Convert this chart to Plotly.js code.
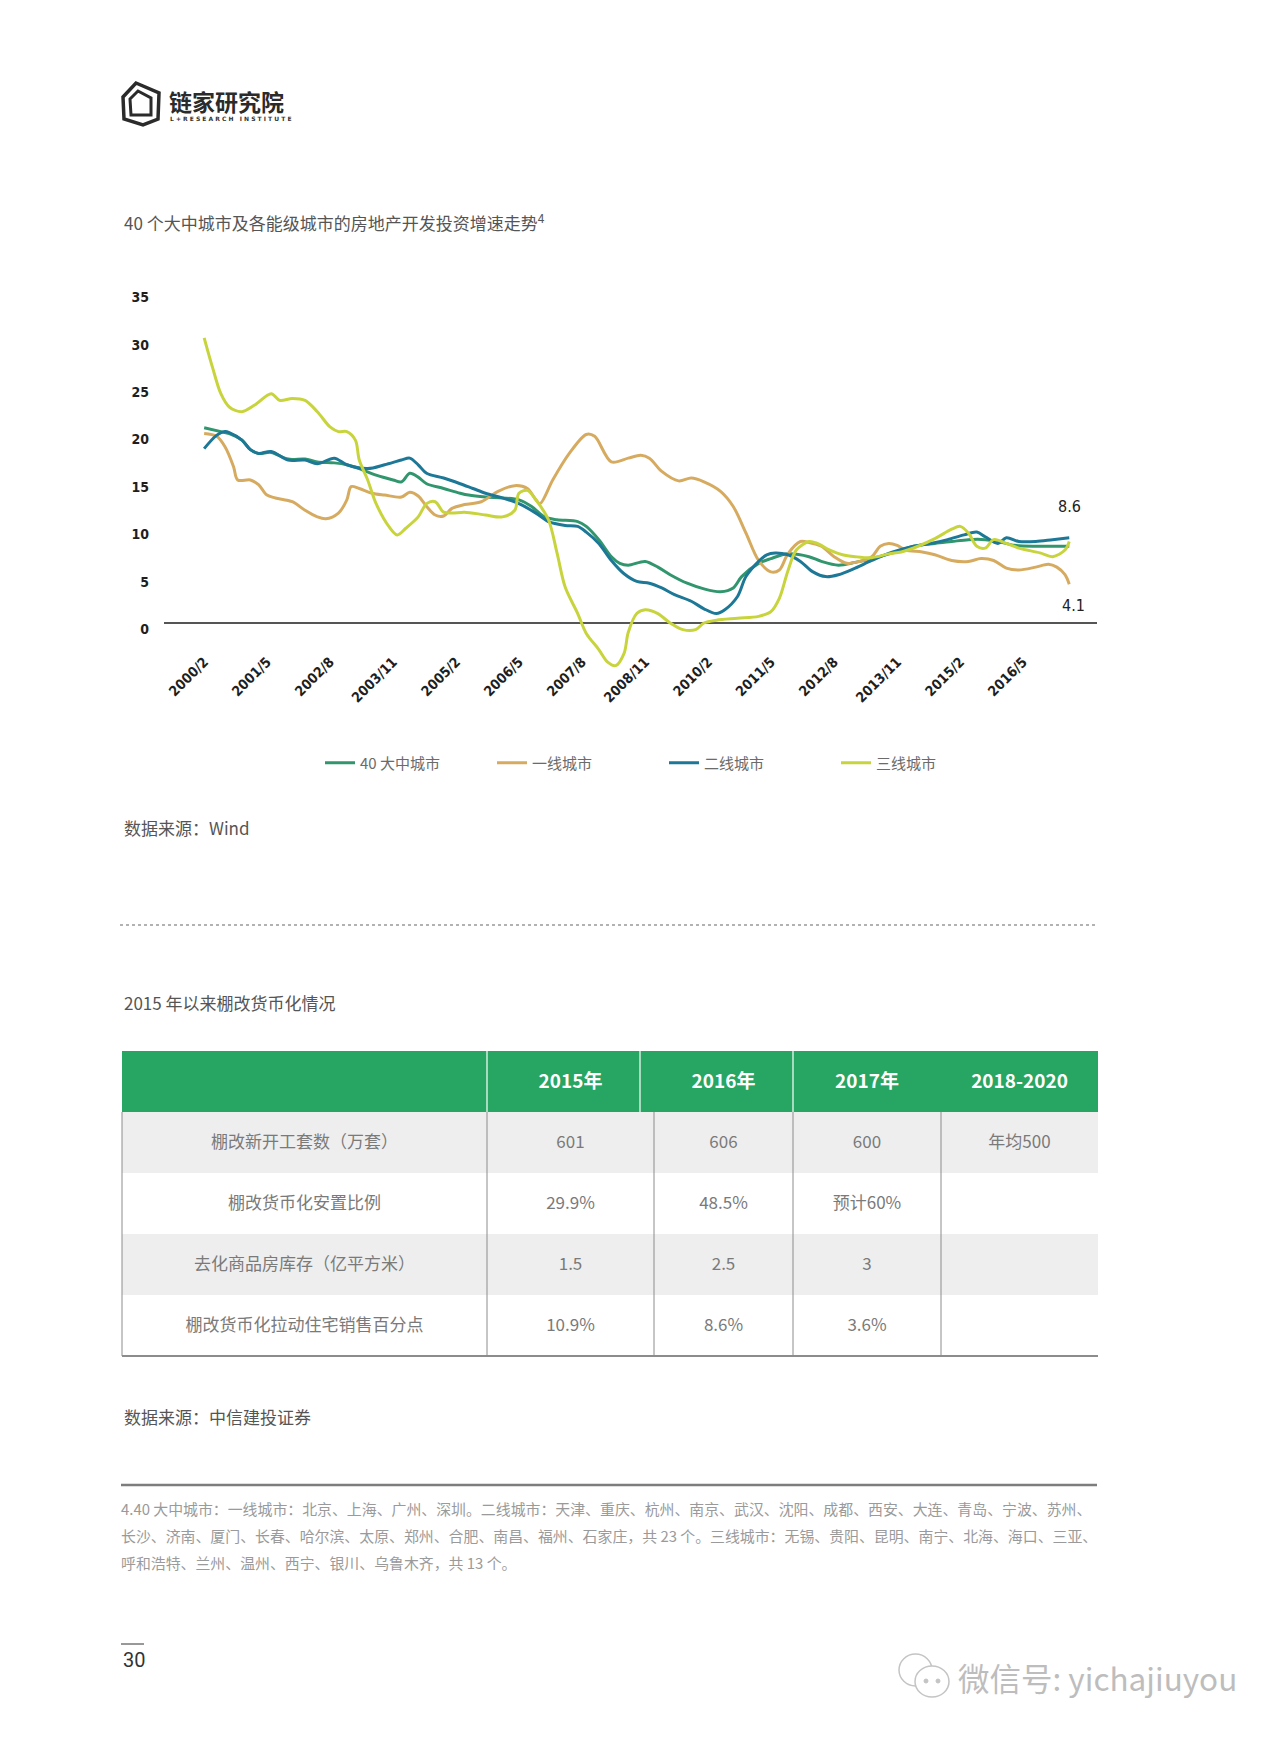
<!DOCTYPE html>
<html>
<head>
<meta charset="utf-8">
<script src="https://cdn.plot.ly/plotly-3.0.1.min.js"></script>
<style>
html,body{margin:0;padding:0;background:#ffffff;}
#page{width:1280px;height:1737px;}
</style>
</head>
<body>
<div id="page"></div>
<script>
// ---------------- data ----------------
const seriesNames = ['40 大中城市', '一线城市', '二线城市', '三线城市'];
const tickLabels = ['2000/2','2001/5','2002/8','2003/11','2005/2','2006/5','2007/8','2008/11','2010/2','2011/5','2012/8','2013/11','2015/2','2016/5'];
const yTicks = [0, 5, 10, 15, 20, 25, 30, 35];

const cities40Dates = ['2000-02','2000-06','2000-08','2000-11','2001-01','2001-03','2001-06','2001-10','2002-02','2002-05','2002-09','2002-12','2003-03','2003-07','2003-11','2004-01','2004-03','2004-05','2004-07','2004-11','2005-03','2005-05','2005-09','2006-01','2006-05','2006-08','2006-11','2007-02','2007-07','2007-09','2007-12','2008-03','2008-05','2008-07','2008-11','2009-02','2009-05','2009-09','2010-01','2010-05','2010-08','2010-10','2011-02','2011-05','2011-09','2012-02','2012-05','2012-09','2013-01','2013-05','2013-10','2014-03','2014-08','2014-12','2015-04','2015-08','2015-11','2016-03','2016-08','2016-12','2017-04'];
const cities40Values = [20.6,20.2,20.0,19.3,18.3,17.9,18.0,17.3,17.3,17.0,16.9,16.7,16.3,15.6,15.1,14.9,15.8,15.4,14.7,14.2,13.7,13.5,13.3,13.2,13.0,12.3,11.2,10.9,10.7,10.2,8.8,7.0,6.3,6.1,6.5,5.9,5.1,4.2,3.6,3.3,3.7,4.9,6.3,6.8,7.3,7.0,6.5,6.1,6.4,6.8,7.4,8.1,8.4,8.6,8.8,8.8,8.6,8.2,8.1,8.1,8.1];

const tier1Dates = ['2000-02','2000-05','2000-07','2000-09','2000-10','2001-01','2001-03','2001-05','2001-07','2001-11','2002-02','2002-05','2002-07','2002-10','2002-12','2003-01','2003-03','2003-06','2003-09','2004-01','2004-03','2004-05','2004-07','2004-09','2004-11','2005-01','2005-04','2005-08','2005-12','2006-04','2006-07','2006-09','2006-10','2007-01','2007-05','2007-09','2007-11','2008-03','2008-07','2008-10','2008-12','2009-03','2009-07','2009-10','2010-01','2010-05','2010-08','2010-11','2011-02','2011-05','2011-07','2011-09','2011-12','2012-02','2012-05','2012-08','2012-11','2013-02','2013-05','2013-07','2013-09','2013-11','2014-01','2014-05','2014-08','2014-12','2015-04','2015-07','2015-10','2016-01','2016-04','2016-08','2016-11','2017-01','2017-03','2017-04'];
const tier1Values = [20.0,19.7,18.6,16.5,15.1,15.1,14.6,13.5,13.2,12.8,11.9,11.2,11.0,11.6,13.0,14.4,14.2,13.7,13.5,13.3,13.8,13.4,12.3,11.4,11.3,12.1,12.5,12.8,13.9,14.5,14.2,13.0,12.6,15.1,17.9,19.9,19.7,17.0,17.4,17.7,17.4,16.0,15.0,15.3,14.9,13.9,12.3,9.5,6.6,5.4,5.6,7.3,8.6,8.5,8.1,7.0,6.3,6.5,7.0,8.1,8.4,8.2,7.7,7.5,7.2,6.6,6.5,6.8,6.6,5.8,5.6,5.9,6.2,5.9,5.1,4.1];

const tier2Dates = ['2000-02','2000-05','2000-07','2000-08','2000-11','2001-01','2001-03','2001-06','2001-10','2002-02','2002-05','2002-09','2002-12','2003-05','2003-09','2004-01','2004-03','2004-05','2004-07','2004-11','2005-03','2005-06','2005-09','2006-01','2006-05','2006-09','2006-12','2007-04','2007-07','2007-09','2007-12','2008-03','2008-06','2008-09','2008-12','2009-03','2009-06','2009-10','2010-01','2010-04','2010-06','2010-09','2010-11','2011-02','2011-04','2011-06','2011-09','2011-12','2012-03','2012-06','2012-09','2013-01','2013-05','2013-10','2014-03','2014-07','2014-11','2015-03','2015-06','2015-08','2015-11','2016-01','2016-04','2016-08','2016-12','2017-04'];
const tier2Values = [18.4,19.8,20.2,20.1,19.3,18.3,17.9,18.1,17.2,17.2,16.8,17.4,16.7,16.3,16.7,17.2,17.4,16.7,15.8,15.3,14.7,14.2,13.7,13.2,12.6,11.6,10.7,10.3,10.2,9.6,8.4,6.6,5.2,4.4,4.2,3.7,3.0,2.3,1.5,1.0,1.4,2.8,4.9,6.5,7.2,7.4,7.2,6.5,5.4,4.9,5.1,5.8,6.6,7.5,8.1,8.4,8.8,9.3,9.6,9.1,8.4,9.0,8.6,8.6,8.8,9.0];

const tier3Dates = ['2000-02','2000-04','2000-06','2000-08','2000-11','2001-02','2001-06','2001-08','2001-11','2002-02','2002-05','2002-08','2002-10','2002-12','2003-02','2003-03','2003-05','2003-07','2003-10','2003-12','2004-02','2004-05','2004-07','2004-09','2004-11','2005-01','2005-04','2005-09','2006-01','2006-04','2006-05','2006-07','2006-09','2006-12','2007-02','2007-04','2007-07','2007-09','2007-12','2008-02','2008-04','2008-06','2008-07','2008-09','2008-11','2009-02','2009-05','2009-08','2009-11','2010-01','2010-04','2010-09','2011-02','2011-05','2011-07','2011-09','2011-11','2012-02','2012-04','2012-07','2012-10','2013-01','2013-05','2013-09','2013-12','2014-04','2014-08','2014-12','2015-02','2015-04','2015-06','2015-08','2015-10','2016-01','2016-04','2016-09','2016-12','2017-03','2017-04'];
const tier3Values = [30.1,27.0,24.2,22.8,22.3,23.0,24.2,23.5,23.7,23.5,22.3,20.7,20.2,20.2,19.3,17.2,15.1,12.6,10.2,9.3,10.0,11.2,12.6,12.8,11.7,11.6,11.7,11.4,11.2,11.9,13.7,14.0,13.0,10.9,7.4,3.8,1.0,-1.1,-2.8,-4.1,-4.5,-3.2,-1.0,1.0,1.4,1.0,0.0,-0.7,-0.7,0.0,0.3,0.5,0.7,1.2,2.6,5.5,7.7,8.6,8.4,7.7,7.2,7.0,6.9,7.3,7.5,8.1,8.9,9.9,10.2,9.5,8.1,7.9,8.8,8.4,7.9,7.4,7.0,7.7,8.6];

const endLabels = ['8.6', '4.1'];

const tableHeader = ['', '2015年', '2016年', '2017年', '2018-2020'];
const tableRowLabels = ['棚改新开工套数（万套）', '棚改货币化安置比例', '去化商品房库存（亿平方米）', '棚改货币化拉动住宅销售百分点'];
const col2015 = ['601', '29.9%', '1.5', '10.9%'];
const col2016 = ['606', '48.5%', '2.5', '8.6%'];
const col2017 = ['600', '预计60%', '3', '3.6%'];
const col2018 = ['年均500', '', '', ''];

// ---------------- helpers / styles ----------------
const W = 1280, H = 1737;
const X = p => p / W;
const Y = p => 1 - p / H;
const CJK = "'Noto Sans CJK SC', 'Noto Sans', sans-serif";
const COND = "'Liberation Sans Narrow', 'DejaVu Sans Condensed', 'Roboto', sans-serif";
const colors = ['#31966e', '#d6ab5f', '#1c7896', '#c8d43c'];

function pathOf(pts, close) {
  return pts.map((p, i) => (i ? 'L' : 'M') + X(p[0]).toFixed(5) + ',' + Y(p[1]).toFixed(5)).join(' ') + (close ? ' Z' : '');
}
function toTickDate(lbl) {
  const [yy, mm] = lbl.split('/');
  return yy + '-' + String(mm).padStart(2, '0') + '-01';
}

const seriesData = [
  [cities40Dates, cities40Values],
  [tier1Dates, tier1Values],
  [tier2Dates, tier2Values],
  [tier3Dates, tier3Values]
];

const traces = seriesData.map((d, i) => ({
  type: 'scatter', mode: 'lines', name: seriesNames[i],
  x: d[0], y: d[1],
  line: {color: colors[i], width: 3, shape: 'spline', smoothing: 0.9},
  hoverinfo: 'skip'
}));

// table geometry (px)
const TBL = {left: 122, right: 1098, top: 1051, head: 61, row: 61};
const textDrop = 15; // table text sits at the top of a Plotly cell: drop it to mid-row
const clear = 'rgba(0,0,0,0)';
traces.push({
  type: 'table',
  domain: {x: [X(TBL.left), X(TBL.right)], y: [Y(TBL.top + textDrop + TBL.head + 4 * TBL.row + 6), Y(TBL.top + textDrop)]},
  columnwidth: [365, 167, 139, 148, 157],
  header: {
    values: tableHeader,
    align: 'center', height: TBL.head,
    fill: {color: clear},
    line: {color: clear, width: 0},
    font: {family: CJK, size: 19, color: '#ffffff', weight: 'bold'}
  },
  cells: {
    values: [tableRowLabels, col2015, col2016, col2017, col2018],
    align: 'center', height: TBL.row,
    fill: {color: clear},
    line: {color: clear, width: 0},
    font: {family: CJK, size: 17, color: '#7a7a7a'}
  }
});

// ---------------- shapes ----------------
const shapes = [];
// table fills (below the transparent table trace)
shapes.push({type: 'rect', xref: 'paper', yref: 'paper', x0: X(TBL.left), x1: X(TBL.right), y0: Y(TBL.top + TBL.head), y1: Y(TBL.top), fillcolor: '#27a563', line: {width: 0}, layer: 'below'});
const rowFill = ['#eeeeee', '#ffffff', '#eeeeee', '#ffffff'];
rowFill.forEach((c, i) => {
  const t = TBL.top + TBL.head + i * TBL.row;
  shapes.push({type: 'rect', xref: 'paper', yref: 'paper', x0: X(TBL.left), x1: X(TBL.right), y0: Y(t + TBL.row), y1: Y(t), fillcolor: c, line: {width: 0}, layer: 'below'});
});
// header dividers (white)
[487, 640, 793].forEach(x => shapes.push({type: 'line', xref: 'paper', yref: 'paper', x0: X(x), x1: X(x), y0: Y(TBL.top), y1: Y(TBL.top + TBL.head), line: {color: '#ffffff', width: 1.2}, layer: 'above'}));
// body dividers (grey)
const bottomY = TBL.top + TBL.head + 4 * TBL.row;
[122, 487, 654, 793, 941].forEach(x => shapes.push({type: 'line', xref: 'paper', yref: 'paper', x0: X(x), x1: X(x), y0: Y(TBL.top + TBL.head), y1: Y(bottomY), line: {color: '#8c8c8c', width: 1}, layer: 'above'}));
shapes.push({type: 'line', xref: 'paper', yref: 'paper', x0: X(TBL.left), x1: X(TBL.right), y0: Y(bottomY), y1: Y(bottomY), line: {color: '#8c8c8c', width: 2}, layer: 'above'});
// dotted separator
shapes.push({type: 'line', xref: 'paper', yref: 'paper', x0: X(120), x1: X(1097), y0: Y(925), y1: Y(925), line: {color: '#666666', width: 1.2, dash: 'dot'}});
// footnote rule
shapes.push({type: 'line', xref: 'paper', yref: 'paper', x0: X(121), x1: X(1097), y0: Y(1485), y1: Y(1485), line: {color: '#7d7d7d', width: 2.5}});
// page number rule
shapes.push({type: 'line', xref: 'paper', yref: 'paper', x0: X(121), x1: X(144), y0: Y(1644), y1: Y(1644), line: {color: '#333333', width: 1}});
// logo icon
shapes.push({type: 'path', xref: 'paper', yref: 'paper', path: pathOf([[136,83],[159,93],[158,119],[143,125],[124,119],[123,97]], true), line: {color: '#2b2b2b', width: 3.5}, fillcolor: clear});
shapes.push({type: 'path', xref: 'paper', yref: 'paper', path: pathOf([[130,99],[138,91],[151,98],[151,115],[131,115]], true), line: {color: '#2b2b2b', width: 3}, fillcolor: clear});
// wechat watermark icon
shapes.push({type: 'circle', xref: 'paper', yref: 'paper', x0: X(899), x1: X(932), y0: Y(1654), y1: Y(1686), line: {color: '#c4c4c4', width: 1.5}});
shapes.push({type: 'circle', xref: 'paper', yref: 'paper', x0: X(915), x1: X(949), y0: Y(1666), y1: Y(1697), line: {color: '#c4c4c4', width: 1.5}, fillcolor: '#ffffff'});
shapes.push({type: 'circle', xref: 'paper', yref: 'paper', x0: X(924), x1: X(928), y0: Y(1679), y1: Y(1683), line: {color: '#c4c4c4', width: 1}, fillcolor: '#c4c4c4'});
shapes.push({type: 'circle', xref: 'paper', yref: 'paper', x0: X(936), x1: X(940), y0: Y(1679), y1: Y(1683), line: {color: '#c4c4c4', width: 1}, fillcolor: '#c4c4c4'});

// ---------------- annotations ----------------
function txt(x, y, text, size, color, family, weight) {
  const f = {family: family || CJK, size: size, color: color};
  if (weight) f.weight = weight;
  return {xref: 'paper', yref: 'paper', x: X(x), y: Y(y), xanchor: 'left', yanchor: 'middle', showarrow: false, text: text, font: f};
}
const annotations = [
  txt(167, 101, '链家研究院', 23, '#2b2b2b', CJK, 'bold'),
  txt(168, 118, 'L + R E S E A R C H   I N S T I T U T E', 6, '#333333', "'DejaVu Sans', sans-serif", 'bold'),
  txt(122, 222, '40 个大中城市及各能级城市的房地产开发投资增速走势<sup>4</sup>', 17, '#555555'),
  txt(122, 827, '数据来源：Wind', 17, '#555555'),
  txt(122, 1002, '2015 年以来棚改货币化情况', 17, '#555555'),
  txt(122, 1416, '数据来源：中信建投证券', 17, '#555555'),
  txt(119, 1508, '4.40 大中城市：一线城市：北京、上海、广州、深圳。二线城市：天津、重庆、杭州、南京、武汉、沈阳、成都、西安、大连、青岛、宁波、苏州、', 14.9, '#9a9a9a'),
  txt(119, 1535, '长沙、济南、厦门、长春、哈尔滨、太原、郑州、合肥、南昌、福州、石家庄，共 23 个。三线城市：无锡、贵阳、昆明、南宁、北海、海口、三亚、', 14.9, '#9a9a9a'),
  txt(119, 1562, '呼和浩特、兰州、温州、西宁、银川、乌鲁木齐，共 13 个。', 14.9, '#9a9a9a'),
  txt(121, 1660, '30', 20, '#333333', "'Liberation Sans Narrow', 'Roboto', sans-serif"),
  txt(956, 1677, '微信号: yichajiuyou', 31.5, '#bdbdbd')
];
// end-of-line value labels, anchored to the data
annotations.push({xref: 'x', yref: 'y', x: tier3Dates[tier3Dates.length - 1], y: tier3Values[tier3Values.length - 1], text: endLabels[0], showarrow: false, yshift: 35, xanchor: 'center', yanchor: 'middle', font: {family: COND, size: 16, color: '#222222'}});
annotations.push({xref: 'x', yref: 'y', x: tier1Dates[tier1Dates.length - 1], y: tier1Values[tier1Values.length - 1], text: endLabels[1], showarrow: false, yshift: -21, xshift: 4, xanchor: 'center', yanchor: 'middle', font: {family: COND, size: 16, color: '#222222'}});

const layout = {
  width: W, height: H,
  margin: {l: 0, r: 0, t: 0, b: 0},
  paper_bgcolor: '#ffffff', plot_bgcolor: clear,
  showlegend: true,
  legend: {orientation: 'h', x: X(320), y: Y(763), xanchor: 'left', yanchor: 'middle',
    font: {family: CJK, size: 15, color: '#6b6b6b'}, entrywidth: 127, entrywidthmode: 'pixels',
    itemwidth: 30, bgcolor: clear, traceorder: 'normal'},
  xaxis: {
    type: 'date', domain: [X(164), X(1097)], range: ['1999-04-16', '2017-10-19'],
    anchor: 'free', position: Y(650),
    showgrid: false, zeroline: false, showline: false, ticks: '',
    tickmode: 'array', tickvals: tickLabels.map(toTickDate), ticktext: tickLabels,
    tickangle: -45, tickfont: {family: COND, size: 14, color: '#1e1e1e', weight: 'bold'},
    fixedrange: true
  },
  yaxis: {
    domain: [Y(670.4), Y(281.9)], range: [-5, 36],
    tickmode: 'array', tickvals: yTicks, ticktext: yTicks.map(String),
    showgrid: false, zeroline: true, zerolinecolor: '#555555', zerolinewidth: 1.2,
    showline: false, ticks: '', ticklabelstandoff: 14, ticklabelshift: 6,
    tickfont: {family: COND, size: 14, color: '#1e1e1e', weight: 'bold'},
    fixedrange: true
  },
  shapes: shapes,
  annotations: annotations
};

Plotly.newPlot('page', traces, layout, {staticPlot: true, displayModeBar: false});
</script>
</body>
</html>
